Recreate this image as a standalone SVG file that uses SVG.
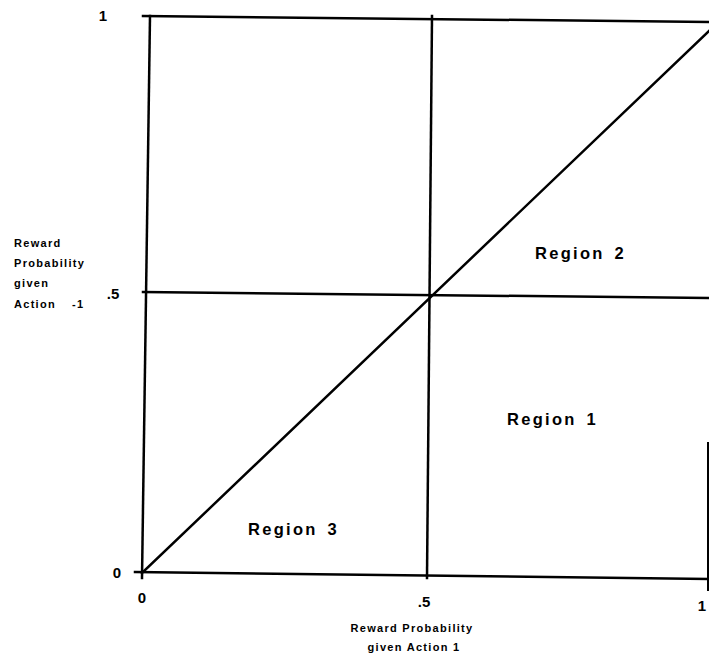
<svg xmlns="http://www.w3.org/2000/svg" width="709" height="654" viewBox="0 0 709 654">
<style>
text{font-family:"Liberation Sans",Arial,sans-serif;font-weight:bold;fill:#000}
.t{font-size:15px}
.s{font-size:11px;letter-spacing:1.3px}
.r{font-size:16.5px;letter-spacing:2.3px;word-spacing:3px}
.ln{stroke:#000;stroke-width:2.5;fill:none;stroke-linecap:square}
</style>
<rect width="709" height="654" fill="#fff"/>
<g id="connectors">
<path class="ln" d="M143 16 L709 22"/>
<path class="ln" d="M150 16 L142 578"/>
<path class="ln" d="M135 572 L709 579"/>
<path class="ln" d="M432 16 L427 578"/>
<path class="ln" d="M143 292 L709 298"/>
<path class="ln" d="M142 573 L709 31"/>
<path class="ln" d="M708 443 L708 590" style="stroke-width:2"/>
</g>
<g id="yticks">
<text class="t" x="103" y="21" text-anchor="middle">1</text>
<text class="t" x="113" y="299" text-anchor="middle">.5</text>
<text class="t" x="117" y="578" text-anchor="middle">0</text>
</g>
<g id="xticks">
<text class="t" x="142" y="603" text-anchor="middle">0</text>
<text class="t" x="424" y="607" text-anchor="middle">.5</text>
<text class="t" x="702" y="611" text-anchor="middle">1</text>
</g>
<g id="ylabel">
<text class="s" x="14" y="247">Reward</text>
<text class="s" x="14" y="267">Probability</text>
<text class="s" x="14" y="287">given</text>
<text class="s" x="14" y="308">Action <tspan x="72">-1</tspan></text>
</g>
<g id="xlabel">
<text class="s" x="412" y="632" text-anchor="middle">Reward  Probability</text>
<text class="s" x="414" y="651" text-anchor="middle">given  Action  1</text>
</g>
<g id="region2"><text class="r" x="535" y="259">Region  2</text></g>
<g id="region1"><text class="r" x="507" y="425">Region  1</text></g>
<g id="region3"><text class="r" x="248" y="535">Region  3</text></g>
</svg>
